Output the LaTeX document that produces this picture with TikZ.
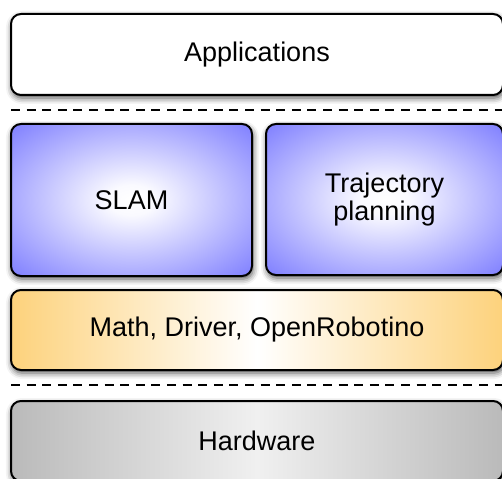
\documentclass[tikz,border=0pt]{standalone}
\usepackage{fontspec}
\setmainfont{Liberation Sans}
\usetikzlibrary{shadows.blur}
\definecolor{layerblue}{RGB}{124,124,255}
\definecolor{layerorange}{RGB}{253,210,124}
\definecolor{layergrey}{RGB}{186,186,186}
\definecolor{layerlight}{RGB}{240,240,240}
\pgfdeclareradialshading{softradial}{\pgfpoint{0bp}{0bp}}{color(0bp)=(white); color(5bp)=(white!96!layerblue); color(36bp)=(layerblue); color(50bp)=(layerblue)}
\tikzset{
  layerbox/.style={draw=black, line width=2pt, rounded corners=10pt, inner sep=0pt, align=center,
    font=\fontsize{27}{28.5}\selectfont,
    blur shadow={shadow xshift=1pt, shadow yshift=-3pt, shadow blur radius=6pt, shadow opacity=70}},
  whitebox/.style={layerbox, fill=white},
  bluebox/.style={layerbox, shading=softradial},
  orangebox/.style={layerbox, left color=layerorange, right color=layerorange, middle color=white},
  greybox/.style={layerbox, left color=layergrey, right color=layergrey, middle color=layerlight},
  separator/.style={draw=black, line width=2pt, dash pattern=on 9pt off 6.6pt}
}
\begin{document}
\begin{tikzpicture}[x=1pt, y=-1pt]
\useasboundingbox (0,0) rectangle (502,478);
\node[whitebox, minimum width=492pt, minimum height=81pt] (app) at (257,54.5) {Applications};
\coordinate (d1l) at (11,110);
\coordinate (d1r) at (502,110);
\draw[separator] (d1l) -- (d1r);
\node[bluebox, minimum width=241pt, minimum height=152pt] (slam) at (131.5,200) {SLAM};
\node[bluebox, minimum width=237pt, minimum height=151pt] (traj) at (384.5,199.5) {Trajectory\\planning};
\node[orangebox, minimum width=492pt, minimum height=80pt] (math) at (257,330) {Math, Driver, OpenRobotino};
\coordinate (d2l) at (11,385);
\coordinate (d2r) at (502,385);
\draw[separator] (d2l) -- (d2r);
\node[greybox, minimum width=492pt, minimum height=80pt] (hw) at (257,441) {Hardware};
\end{tikzpicture}
\end{document}
